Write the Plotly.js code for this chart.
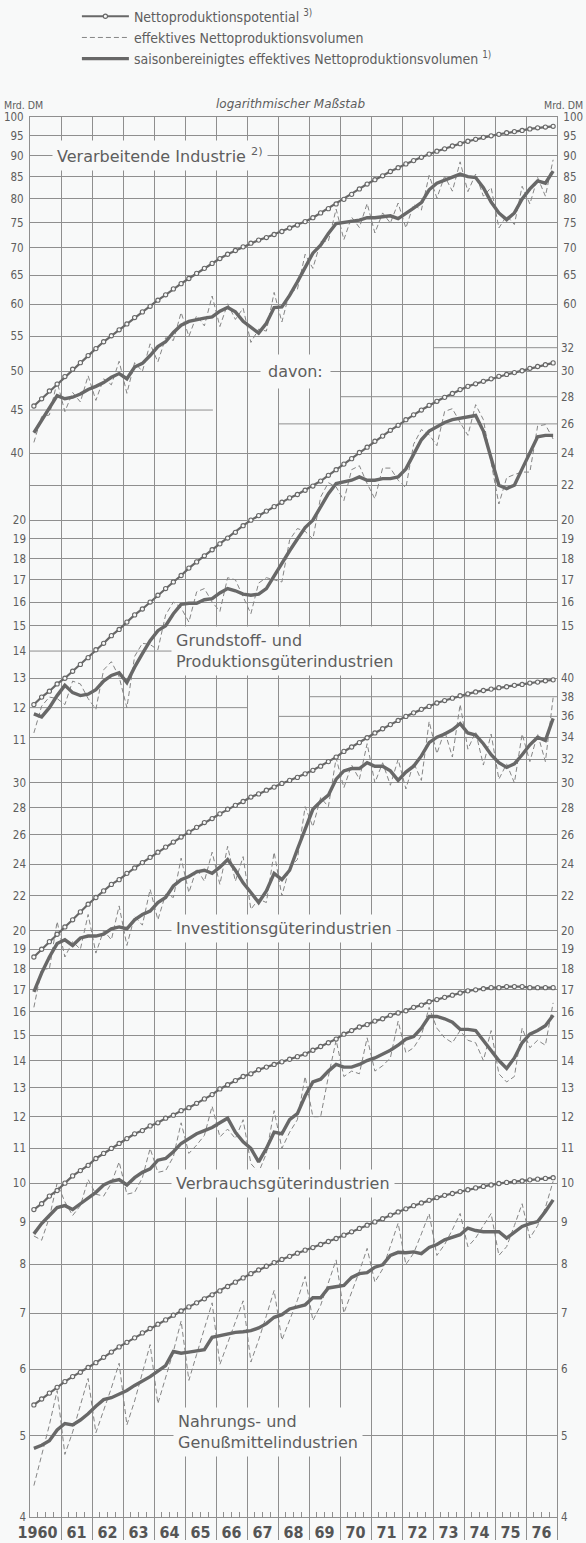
<!DOCTYPE html>
<html>
<head>
<meta charset="utf-8">
<script src="https://cdn.plot.ly/plotly-3.0.1.min.js"></script>
<style>
  html, body { margin: 0; padding: 0; background: #f8f9f9; }
  #chart { width: 586px; height: 1543px; }
</style>
</head>
<body>
<div id="chart"></div>
<script>
// ---------- DATA (quarterly, 1960 Q1 … 1976 Q4, Mrd. DM) ----------
const yearLabels = ['1960','61','62','63','64','65','66','67','68','69','70','71','72','73','74','75','76'];

// Verarbeitende Industrie
const potVerarb = [45.5,46.4,47.4,48.3, 49.3,50.3,51.2,52.2, 53.2,54.2,55.1,56.0, 56.9,57.9,58.8,59.7,
  60.7,61.6,62.6,63.5, 64.4,65.3,66.2,67.1, 68.0,68.8,69.5,70.2, 70.9,71.5,72.0,72.6,
  73.2,73.9,74.5,75.2, 76.0,77.0,77.9,78.9, 79.9,81.0,82.2,83.3, 84.3,85.2,86.2,87.1,
  88.0,88.8,89.6,90.4, 91.1,91.7,92.4,93.0, 93.6,94.1,94.6,95.0, 95.4,95.8,96.1,96.4,
  96.8,97.1,97.3,97.5];
const effVerarb = [41.2,44.2,44.4,48.6, 44.8,47.2,46.0,49.4, 46.2,49.0,48.2,51.4, 47.1,51.2,50.0,53.9,
  51.3,54.8,54.4,58.7, 55.0,58.2,56.6,61.4, 56.5,60.1,57.6,59.4, 54.1,56.1,55.8,62.0,
  57.2,62.1,62.5,68.8, 66.2,71.2,71.3,77.8, 71.6,76.1,74.0,79.0, 72.9,77.0,74.9,79.1,
  73.9,78.8,77.6,85.3, 80.2,85.1,81.7,88.5, 81.6,85.6,80.6,82.5, 73.9,76.4,74.6,82.8,
  78.9,84.8,80.6,89.0];
const saisVerarb = [42.3,43.8,45.2,46.8, 46.4,46.6,47.0,47.6, 48.0,48.5,49.2,49.7, 49.0,50.6,51.1,52.2,
  53.5,54.2,55.6,56.7, 57.3,57.6,57.8,58.0, 58.9,59.5,58.8,57.3, 56.4,55.5,57.0,59.5,
  59.6,61.5,63.8,66.2, 69.0,70.5,72.8,74.8, 75.0,75.3,75.5,76.0, 76.0,76.2,76.4,75.8,
  77.0,78.0,79.2,82.0, 83.5,84.3,84.9,85.6, 85.0,84.8,82.5,79.3, 77.0,75.6,77.0,80.0,
  82.2,84.0,83.5,86.3];

// Grundstoff- und Produktionsgüterindustrien
const potGrund = [12.1,12.35,12.55,12.8, 13.0,13.25,13.5,13.75, 14.05,14.3,14.6,14.85, 15.15,15.45,15.7,16.0,
  16.3,16.6,16.9,17.2, 17.55,17.85,18.15,18.45, 18.75,19.05,19.35,19.7, 20.0,20.25,20.5,20.75,
  21.0,21.25,21.45,21.7, 21.95,22.25,22.6,22.95, 23.3,23.65,24.05,24.4, 24.8,25.15,25.55,25.9,
  26.3,26.65,27.0,27.35, 27.65,27.95,28.25,28.55, 28.8,29.0,29.2,29.4, 29.6,29.75,29.9,30.05,
  30.25,30.4,30.55,30.7];
const effGrund = [11.2,12.05,12.35,12.3, 12.1,12.9,12.8,12.3, 11.95,13.3,13.6,13.05, 12.0,13.8,14.3,14.25,
  14.05,15.45,16.0,15.75, 15.15,16.45,16.6,16.0, 15.6,17.1,17.0,16.2, 15.5,16.85,17.1,17.0,
  16.9,18.95,19.55,19.4, 19.0,21.3,22.15,21.9, 21.1,22.95,23.2,22.1, 21.2,23.05,23.05,22.3,
  21.85,24.6,25.6,25.25, 24.5,26.9,27.1,26.1, 25.2,27.4,26.3,23.4, 20.9,22.45,22.65,22.8,
  22.8,25.85,25.95,24.95];
const saisGrund = [11.8,11.7,12.0,12.4, 12.75,12.5,12.4,12.45, 12.6,12.9,13.1,13.2, 12.85,13.4,13.9,14.4,
  14.8,15.0,15.5,15.9, 15.95,15.95,16.1,16.15, 16.4,16.6,16.5,16.35, 16.3,16.35,16.6,17.2,
  17.8,18.4,19.0,19.6, 20.0,20.7,21.5,22.1, 22.2,22.3,22.5,22.3, 22.3,22.4,22.4,22.5,
  23.0,23.9,24.9,25.5, 25.8,26.1,26.3,26.4, 26.5,26.6,25.5,23.6, 22.0,21.8,22.0,23.0,
  24.0,25.1,25.2,25.2];

// Investitionsgüterindustrien
const potInvest = [18.6,19.0,19.4,19.8, 20.2,20.6,21.05,21.5, 21.9,22.3,22.7,23.0, 23.4,23.75,24.1,24.45,
  24.8,25.15,25.5,25.85, 26.2,26.55,26.9,27.2, 27.55,27.9,28.2,28.5, 28.85,29.1,29.4,29.65,
  29.95,30.2,30.45,30.75, 31.05,31.4,31.8,32.2, 32.7,33.1,33.5,33.95, 34.4,34.8,35.2,35.6,
  36.0,36.35,36.7,37.0, 37.35,37.6,37.85,38.1, 38.3,38.5,38.65,38.8, 38.95,39.05,39.2,39.3,
  39.45,39.55,39.7,39.8];
const effInvest = [16.2,18.0,18.0,20.5, 18.6,19.4,19.0,20.9, 18.8,20.0,19.5,21.4, 19.2,20.8,20.3,22.4,
  20.6,22.1,21.9,24.4, 22.2,23.7,22.9,24.8, 22.7,25.2,22.9,24.5, 21.2,21.8,21.6,24.8,
  22.0,23.8,24.3,28.1, 26.6,28.8,28.1,32.1, 29.6,31.5,30.3,33.4, 30.0,31.7,29.8,32.0,
  29.5,31.7,30.2,35.5, 32.5,34.6,32.2,37.2, 32.9,34.5,31.5,34.3, 30.3,31.6,30.0,34.3,
  31.8,34.3,31.8,37.9];
const saisInvest = [16.9,17.8,18.6,19.3, 19.5,19.2,19.6,19.7, 19.7,19.8,20.1,20.2, 20.1,20.6,20.9,21.1,
  21.6,21.9,22.6,23.0, 23.2,23.5,23.6,23.4, 23.8,24.3,23.6,22.8, 22.2,21.6,22.3,23.4,
  23.0,23.6,25.0,26.5, 27.9,28.5,29.0,30.3, 31.0,31.2,31.2,31.7, 31.4,31.4,31.0,30.2,
  30.9,31.4,32.3,33.5, 34.0,34.3,34.7,35.3, 34.4,34.2,33.4,32.4, 31.7,31.3,31.6,32.4,
  33.3,34.0,33.7,35.8];

// Verbrauchsgüterindustrien
const potVerbr = [9.3,9.45,9.65,9.8, 10.0,10.2,10.35,10.5, 10.7,10.85,11.0,11.15, 11.3,11.45,11.55,11.7,
  11.8,11.95,12.05,12.2, 12.3,12.45,12.6,12.75, 12.95,13.1,13.25,13.4, 13.5,13.65,13.75,13.85,
  13.95,14.05,14.15,14.25, 14.4,14.55,14.7,14.85, 15.05,15.2,15.35,15.45, 15.6,15.7,15.85,15.95,
  16.05,16.2,16.3,16.45, 16.55,16.65,16.75,16.85, 16.95,17.0,17.05,17.1, 17.1,17.15,17.15,17.15,
  17.1,17.1,17.1,17.1];
const effVerbr = [8.65,8.55,9.1,10.0, 9.5,9.15,9.4,10.1, 9.7,9.65,10.0,10.6, 9.7,9.75,10.15,11.0,
  10.3,10.35,10.75,11.8, 10.85,11.1,11.4,12.35, 11.35,11.6,11.3,11.9, 10.55,10.3,10.85,12.2,
  11.0,11.5,11.9,13.4, 12.0,12.0,13.4,14.8, 13.4,13.6,13.5,14.9, 13.6,13.8,14.1,15.6,
  14.3,14.5,15.0,16.2, 15.3,14.9,14.7,15.2, 14.8,14.7,14.0,15.2, 13.5,13.2,13.4,15.3,
  14.5,14.8,14.6,16.4];
const saisVerbr = [8.7,8.95,9.15,9.35, 9.4,9.3,9.45,9.6, 9.75,9.95,10.05,10.1, 9.95,10.15,10.3,10.4,
  10.65,10.7,10.9,11.15, 11.3,11.45,11.55,11.65, 11.8,11.95,11.5,11.2, 11.0,10.6,11.0,11.5,
  11.45,11.9,12.1,12.7, 13.2,13.3,13.6,13.85, 13.75,13.75,13.85,14.0, 14.1,14.25,14.4,14.6,
  14.85,14.95,15.3,15.8, 15.8,15.7,15.55,15.25, 15.25,15.2,14.8,14.4, 14.0,13.7,14.1,14.7,
  15.05,15.2,15.4,15.85];

// Nahrungs- und Genußmittelindustrien
const potNahr = [5.44,5.53,5.62,5.71, 5.8,5.88,5.95,6.03, 6.11,6.2,6.29,6.38, 6.46,6.54,6.63,6.71,
  6.79,6.87,6.96,7.04, 7.12,7.2,7.28,7.36, 7.44,7.53,7.62,7.71, 7.8,7.88,7.96,8.04,
  8.11,8.18,8.25,8.32, 8.38,8.45,8.52,8.59, 8.67,8.75,8.83,8.91, 8.99,9.07,9.16,9.24,
  9.32,9.4,9.47,9.54, 9.61,9.67,9.72,9.77, 9.82,9.87,9.91,9.95, 9.99,10.02,10.04,10.06,
  10.09,10.11,10.13,10.15];
const effNahr = [4.36,4.75,5.15,5.66, 4.75,5.05,5.45,5.85, 5.04,5.35,5.7,6.1, 5.15,5.5,5.95,6.42,
  5.46,5.85,6.3,6.85, 5.82,6.25,6.7,7.2, 6.08,6.45,6.85,7.24, 6.12,6.5,6.95,7.45,
  6.5,6.85,7.25,7.74, 6.86,7.15,7.6,8.1, 7.0,7.4,7.85,8.36, 7.62,7.9,8.4,8.96,
  8.0,8.25,8.7,9.2, 8.2,8.45,8.8,9.2, 8.4,8.6,8.9,9.2, 8.2,8.4,8.9,9.45,
  8.6,8.9,9.35,10.05];
const saisNahr = [4.83,4.87,4.93,5.08, 5.17,5.15,5.22,5.31, 5.42,5.52,5.55,5.6, 5.66,5.74,5.81,5.88,
  5.97,6.06,6.3,6.27, 6.29,6.31,6.33,6.55, 6.58,6.62,6.64,6.65, 6.67,6.72,6.8,6.92,
  6.97,7.08,7.12,7.16, 7.3,7.3,7.5,7.53, 7.55,7.72,7.8,7.82, 7.94,7.99,8.2,8.27,
  8.26,8.28,8.24,8.38, 8.45,8.56,8.62,8.68, 8.84,8.78,8.75,8.74, 8.75,8.6,8.75,8.88,
  8.95,9.0,9.25,9.55];

// tick values of the three logarithmic scales
const ticksA1Left  = [40,45,50,55,60,65,70,75,80,85,90,95,100];
const ticksA1Right = [60,65,70,75,80,85,90,95,100];
const ticksA2Left  = [11,12,13,14,15,16,17,18,19,20];
const ticksA2Right = [15,16,17,18,19,20,22,24,26,28,30,32];
const ticksA3Left  = [4,5,6,7,8,9,10,11,12,13,14,15,16,17,18,19,20,22,24,26,28,30];
const ticksA3Right = [4,5,6,7,8,9,10,11,12,13,14,15,16,17,18,19,20,22,24,26,28,30,32,34,36,38,40];

// ---------- STYLE ----------
const BG = '#f8f9f9';
const GRID = '#8f8f8f';
const INK = '#5e5e5e';
const LINE = '#686868';
const NARROW = '"Liberation Sans Narrow", "DejaVu Sans Condensed", "Arial Narrow", sans-serif';
const LABELF = '"DejaVu Sans", "Noto Sans", sans-serif';

const N = potVerarb.length;
const xq = [];
for (let i = 0; i < N; i++) xq.push(1960.125 + 0.25 * i);

const panels = [
  {pot: potVerarb, eff: effVerarb, sais: saisVerarb, ax: 'y',  legend: true},
  {pot: potGrund,  eff: effGrund,  sais: saisGrund,  ax: 'y3', legend: false},
  {pot: potInvest, eff: effInvest, sais: saisInvest, ax: 'y5', legend: false},
  {pot: potVerbr,  eff: effVerbr,  sais: saisVerbr,  ax: 'y5', legend: false},
  {pot: potNahr,   eff: effNahr,   sais: saisNahr,   ax: 'y5', legend: false}
];

const traces = [];
panels.forEach((p, k) => {
  traces.push({
    type: 'scatter', mode: 'lines', x: xq, y: p.eff, xaxis: 'x', yaxis: p.ax,
    name: 'effektives Nettoproduktionsvolumen', showlegend: p.legend, legendrank: 2,
    legendgroup: 'b',
    line: {color: '#858585', width: 1, dash: '5px,3px'}, hoverinfo: 'skip'
  });
  traces.push({
    type: 'scatter', mode: 'lines', x: xq, y: p.sais, xaxis: 'x', yaxis: p.ax,
    name: 'saisonbereinigtes effektives Nettoproduktionsvolumen <sup>1)</sup>',
    showlegend: p.legend, legendrank: 3, legendgroup: 'c',
    line: {color: LINE, width: 3.4}, hoverinfo: 'skip'
  });
  traces.push({
    type: 'scatter', mode: 'lines+markers', x: xq, y: p.pot, xaxis: 'x', yaxis: p.ax,
    name: 'Nettoproduktionspotential <sup>3)</sup>', showlegend: p.legend, legendrank: 1,
    legendgroup: 'a',
    line: {color: LINE, width: 2.2},
    marker: {symbol: 'circle', size: 4.2, color: BG, line: {color: LINE, width: 1.1}},
    hoverinfo: 'skip'
  });
});
// empty helper traces so that every auxiliary axis is drawn
['y2','y4','y6','y7','y8','y9'].forEach(a => traces.push({type:'scatter', x:[], y:[], xaxis:'x', yaxis:a, showlegend:false, hoverinfo:'skip'}));
['x2','x3'].forEach(a => traces.push({type:'scatter', x:[], y:[], xaxis:a, yaxis:'y', showlegend:false, hoverinfo:'skip'}));

// ---------- AXES ----------
const H = 1400;
const rA1 = [2 - H / 845, 2];
const rA2 = [Math.log10(60) - H / 845, Math.log10(60)];
const rA3 = [Math.log10(4), Math.log10(4) + H / 839];

const tickFont = {family: NARROW, size: 11.5, color: INK};
function yLab(range, vals, side, extra) {
  return Object.assign({
    type: 'log', range: range, autorange: false, side: side,
    tickmode: 'array', tickvals: vals, ticktext: vals.map(String),
    ticks: '', showgrid: false, zeroline: false, showline: false,
    tickfont: tickFont, ticklabelstandoff: 3, fixedrange: true
  }, extra || {});
}
function yGrid(range, vals) {
  return {
    type: 'log', range: range, autorange: false, overlaying: 'y', side: 'left',
    tickmode: 'array', tickvals: vals, showticklabels: false, ticks: '',
    showgrid: true, gridcolor: GRID, gridwidth: 1, zeroline: false, showline: false, fixedrange: true
  };
}

const yearBounds = [];
for (let y = 1961; y <= 1977; y++) yearBounds.push(y);
const labelPos = yearLabels.map((t, i) => i === 0 ? 1960.24 : 1960.5 + i);
const quarterTicks = [];
for (let y = 1960; y < 1977; y++) quarterTicks.push(y + 0.25, y + 0.5, y + 0.75);

const lg = v => Math.log10(v);

// partial horizontal grid lines (shape y values are given as plain axis values)
const shapes = [
  [1960, 1965.9, 'y', 45],
  [1973, 1977, 'y3', 32],
  [1970, 1977, 'y3', 28],
  [1968, 1977, 'y3', 26],
  [1960, 1965, 'y3', 14],
  [1960, 1967, 'y3', 12],
  [1968, 1977, 'y5', 36],
  [1969, 1977, 'y5', 38]
].map(s => ({type: 'line', xref: 'x', yref: s[2], x0: s[0], x1: s[1], y0: s[3], y1: s[3],
  line: {color: GRID, width: 1}, layer: 'below'}));

const labelBox = {bgcolor: BG, borderpad: 4, showarrow: false, font: {family: LABELF, size: 16, color: INK}};
const annotations = [
  {text: 'Mrd. DM', xref: 'paper', yref: 'paper', x: -0.012, y: 1.0086, xanchor: 'center', yanchor: 'middle',
   showarrow: false, font: {family: NARROW, size: 10.5, color: INK}},
  {text: 'Mrd. DM', xref: 'paper', yref: 'paper', x: 1.012, y: 1.0086, xanchor: 'center', yanchor: 'middle',
   showarrow: false, font: {family: NARROW, size: 10.5, color: INK}},
  {text: '<i>logarithmischer Maßstab</i>', xref: 'paper', yref: 'paper', x: 0.495, y: 1.009,
   xanchor: 'center', yanchor: 'middle', showarrow: false, font: {family: LABELF, size: 12, color: INK}},
  Object.assign({}, labelBox, {text: 'Verarbeitende Industrie <sup>2)</sup>', xref: 'x', yref: 'y',
   x: 1960.7, y: lg(90), xanchor: 'left', yanchor: 'middle'}),
  Object.assign({}, labelBox, {text: 'davon:', xref: 'x', yref: 'y', borderpad: 7,
   x: 1968.58, y: lg(50), xanchor: 'center', yanchor: 'middle'}),
  Object.assign({}, labelBox, {text: 'Grundstoff- und<br>Produktionsgüterindustrien', xref: 'x', yref: 'y3',
   x: 1964.55, y: lg(14), xanchor: 'left', yanchor: 'middle', align: 'left'}),
  Object.assign({}, labelBox, {text: 'Investitionsgüterindustrien', xref: 'x', yref: 'y5',
   x: 1964.55, y: lg(20.1), xanchor: 'left', yanchor: 'middle'}),
  Object.assign({}, labelBox, {text: 'Verbrauchsgüterindustrien', xref: 'x', yref: 'y5',
   x: 1964.55, y: lg(10), xanchor: 'left', yanchor: 'middle'}),
  Object.assign({}, labelBox, {text: 'Nahrungs- und<br>Genußmittelindustrien', xref: 'x', yref: 'y5',
   x: 1964.6, y: lg(5.05), xanchor: 'left', yanchor: 'middle', align: 'left'})
];

const layout = {
  width: 586, height: 1543,
  paper_bgcolor: BG, plot_bgcolor: BG,
  margin: {l: 30, r: 29, t: 117, b: 26, pad: 0, autoexpand: false},
  showlegend: true,
  legend: {x: 0.089, xanchor: 'left', y: 1.0831, yanchor: 'top', orientation: 'v',
    font: {family: NARROW, size: 14, color: INK}, bgcolor: 'rgba(0,0,0,0)',
    tracegroupgap: 2, itemwidth: 47, traceorder: 'normal'},
  xaxis: {range: [1960, 1977], autorange: false, tickmode: 'array', tickvals: yearBounds,
    ticks: 'outside', ticklen: 22, tickcolor: GRID, tickwidth: 1, showticklabels: false,
    showgrid: true, gridcolor: GRID, gridwidth: 1, showline: true, linecolor: GRID, linewidth: 1,
    mirror: true, zeroline: false, fixedrange: true},
  xaxis2: {range: [1960, 1977], autorange: false, overlaying: 'x', side: 'bottom', anchor: 'y',
    tickmode: 'array', tickvals: labelPos, ticktext: yearLabels.map(t => '<b>' + t + '</b>'),
    ticks: '', showgrid: false, showline: false, zeroline: false,
    tickfont: {family: NARROW, size: 16, color: '#555'}, ticklabelstandoff: 4, fixedrange: true},
  xaxis3: {range: [1960, 1977], autorange: false, overlaying: 'x', side: 'bottom', anchor: 'y',
    tickmode: 'array', tickvals: quarterTicks, ticks: 'inside', ticklen: 5, tickcolor: GRID,
    showticklabels: false, showgrid: false, showline: false, zeroline: false, fixedrange: true},
  yaxis:  yLab(rA1, ticksA1Left, 'left', {showline: true, linecolor: GRID, linewidth: 1}),
  yaxis2: yLab(rA1, ticksA1Right, 'right', {overlaying: 'y', anchor: 'x', showline: true, linecolor: GRID, linewidth: 1}),
  yaxis3: yLab(rA2, ticksA2Left, 'left', {overlaying: 'y', anchor: 'x'}),
  yaxis4: yLab(rA2, ticksA2Right, 'right', {overlaying: 'y', anchor: 'x'}),
  yaxis5: yLab(rA3, ticksA3Left, 'left', {overlaying: 'y', anchor: 'x'}),
  yaxis6: yLab(rA3, ticksA3Right, 'right', {overlaying: 'y', anchor: 'x'}),
  yaxis7: yGrid(rA1, [40,50,55,60,65,70,75,80,85,90,95]),
  yaxis8: yGrid(rA2, [15,16,17,18,19,20,22]),
  yaxis9: yGrid(rA3, [5,6,7,8,9,10,11,12,13,14,15,16,17,18,19,20,22,24,26,28,30,32,34,40]),
  shapes: shapes,
  annotations: annotations
};

Plotly.newPlot('chart', traces, layout, {staticPlot: true, displayModeBar: false});
</script>
</body>
</html>
